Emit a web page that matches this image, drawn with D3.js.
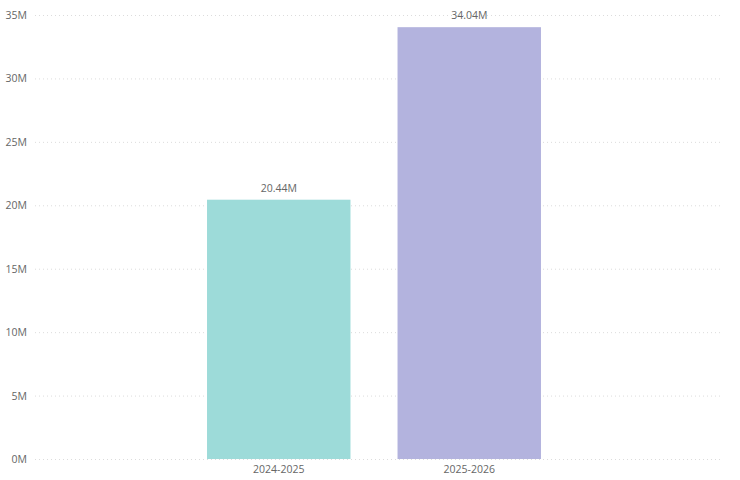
<!DOCTYPE html>
<html>
<head>
<meta charset="utf-8">
<script src="https://cdn.jsdelivr.net/npm/d3@7"></script>
<style>
  body { margin: 0; background: #fff; }
  text { font-family: "Segoe UI", "Open Sans", "Noto Sans", sans-serif; }
</style>
</head>
<body>
<svg width="740" height="480"></svg>
<script>
var categories = ["2024-2025", "2025-2026"];
var values = [20.44, 34.04];
var colors = ["#9ddbd9", "#b3b3de"];
var yTicks = [0, 5, 10, 15, 20, 25, 30, 35];

var svg = d3.select("svg");

var x = d3.scaleBand()
    .domain(categories)
    .range([183.5, 564.5])
    .paddingInner(0.247)
    .paddingOuter(0.1235);

var y = d3.scaleLinear()
    .domain([0, 35])
    .range([459, 15]);

// gridlines
svg.append("g")
    .selectAll("line")
    .data(yTicks)
    .enter()
    .append("line")
    .attr("x1", 35)
    .attr("x2", 720)
    .attr("y1", function(d) { return y(d) + 0.5; })
    .attr("y2", function(d) { return y(d) + 0.5; })
    .style("stroke", "#dcdcdc")
    .style("stroke-width", 1)
    .style("stroke-dasharray", "1,3");

// y tick labels
svg.append("g")
    .selectAll("text")
    .data(yTicks)
    .enter()
    .append("text")
    .attr("x", 27)
    .attr("y", function(d) { return y(d) + 4; })
    .text(function(d) { return d + "M"; })
    .style("font-size", "10.5px")
    .style("fill", "#666")
    .style("text-anchor", "end");

// bars
svg.append("g")
    .selectAll("rect")
    .data(values)
    .enter()
    .append("rect")
    .attr("x", function(d, i) { return x(categories[i]); })
    .attr("y", function(d) { return y(d); })
    .attr("width", x.bandwidth())
    .attr("height", function(d) { return y(0) - y(d); })
    .style("fill", function(d, i) { return colors[i]; });

// value labels
svg.append("g")
    .selectAll("text")
    .data(values)
    .enter()
    .append("text")
    .attr("x", function(d, i) { return x(categories[i]) + x.bandwidth() / 2; })
    .attr("y", function(d) { return y(d) - 8; })
    .text(function(d) { return d.toFixed(2) + "M"; })
    .style("font-size", "10.5px")
    .style("fill", "#666")
    .style("text-anchor", "middle");

// category labels
svg.append("g")
    .selectAll("text")
    .data(categories)
    .enter()
    .append("text")
    .attr("x", function(d) { return x(d) + x.bandwidth() / 2; })
    .attr("y", 473)
    .text(function(d) { return d; })
    .style("font-size", "10.5px")
    .style("fill", "#666")
    .style("text-anchor", "middle");
</script>
</body>
</html>
